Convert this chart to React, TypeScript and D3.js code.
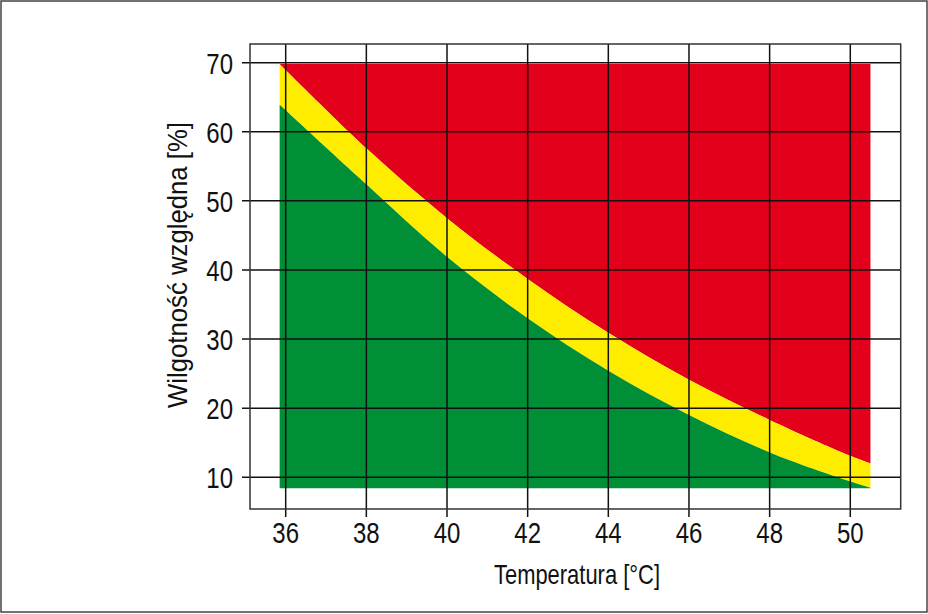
import React, { useRef, useEffect } from 'react';
import * as d3 from 'd3';

// Temperature samples [°C] along the comfort boundaries
const temps = [35.85, 38, 40, 42, 44, 46, 48, 50, 50.5];
// Upper edge of the green (safe) zone, relative humidity [%]
const safeLimit = [63.9, 52.4, 41.9, 33.0, 25.4, 19.0, 13.6, 9.4, 8.5];
// Lower edge of the red (danger) zone, relative humidity [%]
const dangerLimit = [69.8, 57.6, 47.5, 38.7, 30.9, 24.1, 18.3, 13.1, 12.0];

const humidityRange = [8.4, 69.8];
const xTicks = [36, 38, 40, 42, 44, 46, 48, 50];
const yTicks = [10, 20, 30, 40, 50, 60, 70];

export default function App() {
  const svgRef = useRef<SVGSVGElement>(null);

  useEffect(() => {
    const width = 928;
    const height = 614;
    const left = 250, right = 900.7, top = 44, bottom = 509;

    const x = d3.scaleLinear().domain([35.115, 51.25]).range([left, right]);
    const y = d3.scaleLinear().domain([5.41, 72.7]).range([bottom, top]);

    const svg = d3.select(svgRef.current)
      .attr('width', width)
      .attr('height', height)
      .attr('viewBox', [0, 0, width, height]);
    svg.selectAll('*').remove();

    const rows = temps.map((t, i) => ({ t, lo: safeLimit[i], hi: dangerLimit[i] }));
    const [rhMin, rhMax] = humidityRange;

    const area = (y0: (d: any) => number, y1: (d: any) => number) =>
      d3.area<any>().x(d => x(d.t)).y0(d => y(y0(d))).y1(d => y(y1(d))).curve(d3.curveCatmullRom.alpha(0.5));

    const zones = svg.append('g');
    zones.append('path').attr('fill', '#e2001a').attr('d', area(d => d.hi, () => rhMax)(rows));
    zones.append('path').attr('fill', '#ffed00').attr('d', area(d => d.lo, d => d.hi)(rows));
    zones.append('path').attr('fill', '#008f36').attr('d', area(() => rhMin, d => d.lo)(rows));

    // grid lines reaching out as ticks
    const grid = svg.append('g').attr('stroke', '#111').attr('stroke-width', 1.5);
    grid.selectAll('line.v').data(xTicks).join('line')
      .attr('x1', d => x(d)).attr('x2', d => x(d))
      .attr('y1', top).attr('y2', bottom + 8);
    grid.selectAll('line.h').data(yTicks).join('line')
      .attr('y1', d => y(d)).attr('y2', d => y(d))
      .attr('x1', left - 8).attr('x2', right);

    svg.append('rect')
      .attr('x', left).attr('y', top)
      .attr('width', right - left).attr('height', bottom - top)
      .attr('fill', 'none').attr('stroke', '#333').attr('stroke-width', 1.5);

    // condensed look: Arial metrics squeezed horizontally
    const font = '"Liberation Sans", Arial, sans-serif';
    const squeeze = 0.8;

    svg.append('g').selectAll('text').data(xTicks).join('text')
      .attr('transform', d => `translate(${x(d)},543) scale(${squeeze},1)`)
      .attr('text-anchor', 'middle')
      .attr('font-family', font).attr('font-size', 30).attr('fill', '#111')
      .text(d => d);

    svg.append('g').selectAll('text').data(yTicks).join('text')
      .attr('transform', d => `translate(233,${y(d) + 11}) scale(${squeeze},1)`)
      .attr('text-anchor', 'end')
      .attr('font-family', font).attr('font-size', 30).attr('fill', '#111')
      .text(d => d);

    svg.append('text')
      .attr('x', 577).attr('y', 584)
      .attr('text-anchor', 'middle')
      .attr('font-family', font).attr('font-size', 28).attr('fill', '#111')
      .attr('textLength', 166).attr('lengthAdjust', 'spacingAndGlyphs')
      .text('Temperatura [°C]');

    svg.append('text')
      .attr('transform', 'translate(187,265) rotate(-90)')
      .attr('text-anchor', 'middle')
      .attr('font-family', font).attr('font-size', 28).attr('fill', '#111')
      .attr('textLength', 286).attr('lengthAdjust', 'spacingAndGlyphs')
      .text('Wilgotność względna [%]');

    // outer border
    svg.append('rect')
      .attr('x', 1).attr('y', 1).attr('width', 926).attr('height', 611)
      .attr('fill', 'none').attr('stroke', '#444').attr('stroke-width', 1.5);
  }, []);

  return (
    <svg ref={svgRef} style={{ position: 'absolute', left: 0, top: 0, background: '#fff' }}></svg>
  );
}
